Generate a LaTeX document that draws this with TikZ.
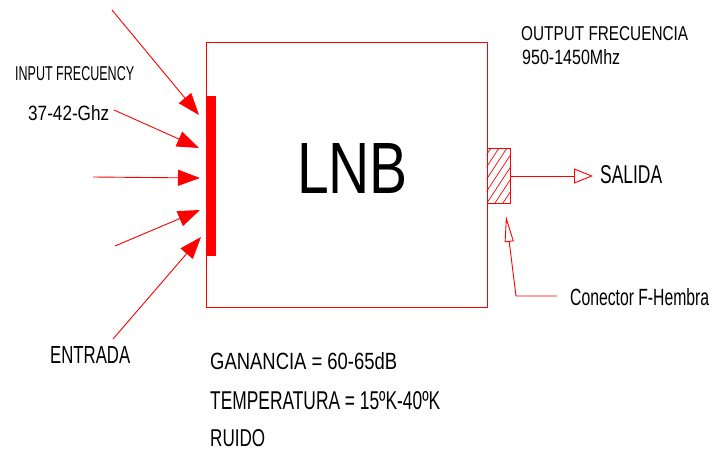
\documentclass[tikz,border=0pt]{standalone}
\usepackage{fontspec}
\setmainfont{Liberation Sans}
\usetikzlibrary{arrows.meta}
\newcommand{\fitt}[3]{\resizebox{#1pt}{#2pt}{\fontsize{20pt}{20pt}\selectfont #3}}
\definecolor{lred}{RGB}{255,0,0}
\tikzset{
  red line/.style={draw=lred, line width=0.9pt},
  in arrow/.style={red line, -{Triangle[length=22pt,width=16pt]}},
  lbl/.style={inner sep=0pt, anchor=west, text=black},
}
\begin{document}
\begin{tikzpicture}[x=1pt,y=-1pt]
\useasboundingbox (0,0) rectangle (712,452);
% red bar
\node[fill=lred, minimum width=9pt, minimum height=160pt, inner sep=0pt] (bar) at (211.5,176) {};
% main box
\node[minimum width=280pt, minimum height=264pt, inner sep=0pt] (box) at (347,175) {};
\draw[red line] (box.north west) rectangle (box.south east);
\node[lbl, anchor=center] (lnb) at (352.5,168) {\fitt{111}{50}{LNB}};
% incoming arrows
\coordinate (s1) at (112,10);  \coordinate (t1) at (199,115);
\coordinate (s2) at (114,110); \coordinate (t2) at (199,148);
\coordinate (s3) at (93,177);  \coordinate (t3) at (200,178);
\coordinate (s4) at (115,246); \coordinate (t4) at (200,210);
\coordinate (s5) at (113,339); \coordinate (t5) at (201,237);
\foreach \i in {1,...,5} \draw[in arrow] (s\i) -- (t\i);
% connector
\node[red line, minimum width=23pt, minimum height=55pt, inner sep=0pt] (conn) at (498.5,175.5) {};
\begin{scope}
  \clip (conn.south west) rectangle (conn.north east);
  \foreach \k in {-5,...,3} \draw[lred, line width=0.7pt] (487+8*\k,203) -- ++(36,-55);
\end{scope}
% output
\coordinate (outtip) at (593,176);
\draw[red line, -{Triangle[open,length=19pt,width=15pt]}] (conn.east |- outtip) -- (outtip);
\node[lbl] (salida) at (600,175) {\fitt{62}{18}{SALIDA}};
% connector pointer
\coordinate (pc) at (516,296);
\coordinate (pe) at (557,296);
\coordinate (ptip) at (506,216);
\draw[red line, -{Triangle[open,length=26pt,width=9pt]}] (pe) -- (pc) -- (ptip);
\node[lbl] (conector) at (570,297.5) {\fitt{139}{17}{Conector F-Hembra}};
% labels
\node[lbl] (inf) at (15,74) {\fitt{119}{14}{INPUT FRECUENCY}};
\node[lbl] (ghz) at (28,113) {\fitt{81}{15}{37-42-Ghz}};
\node[lbl] (entrada) at (50,355) {\fitt{80}{17}{ENTRADA}};
\node[lbl] (outf) at (521,34) {\fitt{167}{14}{OUTPUT FRECUENCIA}};
\node[lbl] (mhz) at (522,57.5) {\fitt{98}{15}{950-1450Mhz}};
\node[lbl] (gan) at (210,361) {\fitt{187}{17}{GANANCIA = 60-65dB}};
\node[lbl] (temp) at (210,401) {\fitt{230}{18}{TEMPERATURA = 15ºK-40ºK}};
\node[lbl] (ruido) at (210,438) {\fitt{55}{17}{RUIDO}};
\end{tikzpicture}
\end{document}
